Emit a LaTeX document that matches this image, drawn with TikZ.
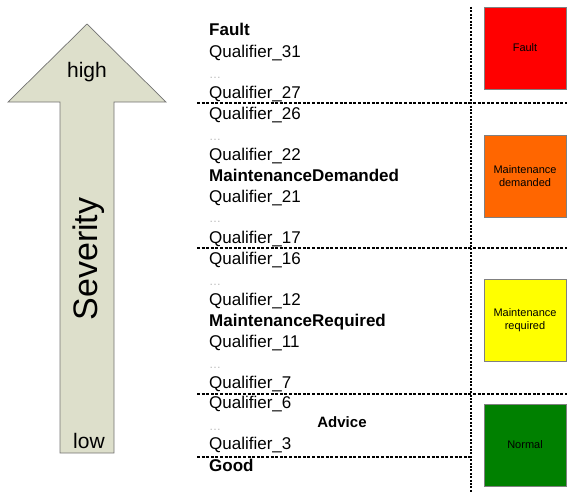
\documentclass[tikz,border=0pt]{standalone}
\usepackage{fontspec}
\setmainfont{Liberation Sans}
\usetikzlibrary{positioning}
\definecolor{arrowfill}{HTML}{DDDFCB}
\definecolor{faultred}{HTML}{FF0000}
\definecolor{demandorange}{HTML}{FF6600}
\definecolor{requiredyellow}{HTML}{FFFF00}
\definecolor{normalgreen}{HTML}{008000}
\tikzset{
  sev arrow/.style={draw=gray!90!black,fill=arrowfill,line width=0.7pt},
  sev text/.style={anchor=base,inner sep=0pt,font=\fontsize{21}{24}\selectfont},
  qual/.style={anchor=base west,inner sep=0pt,font=\fontsize{17}{20}\selectfont},
  level/.style={anchor=base west,inner sep=0pt,font=\fontsize{17}{20}\selectfont\bfseries},
  skip/.style={anchor=base west,inner sep=0pt,text=gray!55,font=\fontsize{12}{14}\selectfont},
  split line/.style={dash pattern=on 3pt off 1.6pt,line width=1.3pt},
  col line/.style={dash pattern=on 2pt off 1.4pt,line width=1.3pt},
  state box/.style={draw=gray,minimum width=82pt,minimum height=82pt,inner sep=0pt,align=center,font=\fontsize{11}{13}\selectfont},
}
\begin{document}
\begin{tikzpicture}[x=1pt,y=-1pt]
  \useasboundingbox (0,0) rectangle (577,503);
  % severity arrow
  \draw[sev arrow] (87,24) -- (166,102) -- (114,102) -- (114,453) -- (60,453) -- (60,102) -- (8,102) -- cycle;
  \node[sev text] (high) at (87,77) {high};
  \node[sev text] (low) at (89,448) {low};
  \node[anchor=base,inner sep=0pt,rotate=90,font=\fontsize{34}{40}\selectfont] (sev) at (97,259) {Severity};
  % qualifier list
  \node[level] (fault) at (209,36) {Fault};
  \node[qual] (q31) at (209,57) {Qualifier\_31};
  \node[skip] (d1) at (209,78) {…};
  \node[qual] (q27) at (209,98) {Qualifier\_27};
  \node[qual] (q26) at (209,119) {Qualifier\_26};
  \node[skip] (d2) at (209,140) {…};
  \node[qual] (q22) at (209,160) {Qualifier\_22};
  \node[level] (mdem) at (209,181) {MaintenanceDemanded};
  \node[qual] (q21) at (209,202) {Qualifier\_21};
  \node[skip] (d3) at (209,222) {…};
  \node[qual] (q17) at (209,243) {Qualifier\_17};
  \node[qual] (q16) at (209,264) {Qualifier\_16};
  \node[skip] (d4) at (209,285) {…};
  \node[qual] (q12) at (209,305) {Qualifier\_12};
  \node[level] (mreq) at (209,326) {MaintenanceRequired};
  \node[qual] (q11) at (209,347) {Qualifier\_11};
  \node[skip] (d5) at (209,368) {…};
  \node[qual] (q7) at (209,388) {Qualifier\_7};
  \node[qual] (q6) at (209,408) {Qualifier\_6};
  \node[skip] (d6) at (209,430) {…};
  \node[qual] (q3) at (209,449) {Qualifier\_3};
  \node[level] (good) at (209,471) {Good};
  \node[anchor=base,inner sep=0pt,font=\fontsize{15}{18}\selectfont\bfseries] (advice) at (342,427) {Advice};
  % separators
  \coordinate (s1w) at (197,103);
  \coordinate (s1e) at (567,103);
  \coordinate (s2w) at (197,248);
  \coordinate (s2e) at (567,248);
  \coordinate (s3w) at (197,394);
  \coordinate (s3e) at (567,394);
  \coordinate (s4w) at (197,457);
  \coordinate (s4e) at (471,457);
  \coordinate (vtop) at (471,7);
  \coordinate (vbot) at (471,493);
  \draw[split line] (s1w) -- (s1e);
  \draw[split line] (s2w) -- (s2e);
  \draw[split line] (s3w) -- (s3e);
  \draw[split line] (s4w) -- (s4e);
  \draw[col line] (vtop) -- (vbot);
  % state boxes
  \node[state box,fill=faultred] (bfault) at (525,48) {Fault};
  \node[state box,fill=demandorange] (bdem) at (525,176) {Maintenance\\demanded};
  \node[state box,fill=requiredyellow] (breq) at (525,320) {Maintenance\\required};
  \node[state box,fill=normalgreen] (bnorm) at (525,445) {Normal};
\end{tikzpicture}
\end{document}
